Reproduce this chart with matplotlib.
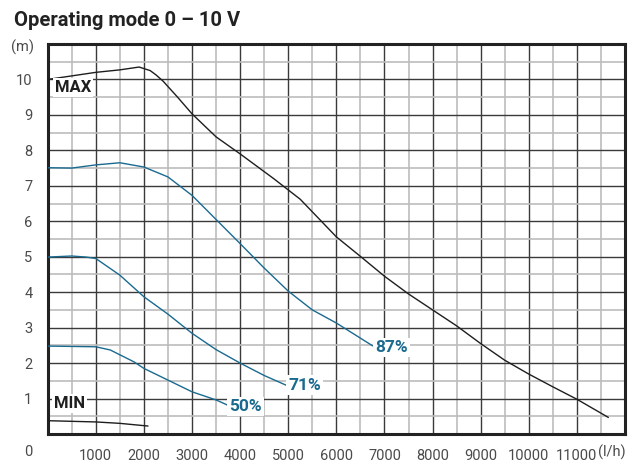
import matplotlib
matplotlib.use("Agg")
import matplotlib.pyplot as plt
from matplotlib.ticker import MultipleLocator

plt.rcParams['font.family'] = ['Roboto', 'DejaVu Sans']

# Pump curves: flow (l/h) vs head (m)
max_q = [0, 500, 1000, 1500, 1900, 2130, 2250, 2400, 2700, 3000, 3500, 4000, 4700, 5250,
         6000, 6500, 7000, 7500, 8000, 8500, 9000, 9500, 10000, 10500, 11000, 11650]
max_h = [10.0, 10.1, 10.2, 10.27, 10.35, 10.25, 10.13, 9.95, 9.5, 9.03, 8.38, 7.9, 7.2, 6.62,
         5.56, 5.01, 4.45, 3.95, 3.5, 3.05, 2.55, 2.08, 1.69, 1.33, 0.98, 0.47]

p87_q = [0, 500, 1000, 1500, 2000, 2500, 3000, 3500, 4000, 4500, 5000, 5500, 6000, 6750]
p87_h = [7.51, 7.5, 7.59, 7.65, 7.53, 7.25, 6.73, 6.05, 5.37, 4.68, 4.03, 3.5, 3.13, 2.49]

p71_q = [0, 500, 800, 1000, 1500, 2000, 2500, 3000, 3500, 4000, 4500, 4950]
p71_h = [4.99, 5.02, 4.99, 4.95, 4.48, 3.87, 3.38, 2.84, 2.38, 2.0, 1.65, 1.38]

p50_q = [0, 1000, 1300, 1800, 2000, 2500, 3000, 3500, 3730]
p50_h = [2.48, 2.46, 2.37, 2.03, 1.85, 1.52, 1.19, 0.96, 0.82]

min_q = [0, 1000, 1500, 2080]
min_h = [0.375, 0.34, 0.30, 0.225]

x_ticks = [1000, 2000, 3000, 4000, 5000, 6000, 7000, 8000, 9000, 10000, 11000]
y_ticks = [1, 2, 3, 4, 5, 6, 7, 8, 9, 10]

BLUE = '#1a6a90'
DARK = '#1e1e1e'
LABEL = '#4a4a4a'

fig = plt.figure(figsize=(6.4, 4.74), dpi=100)
ax = fig.add_axes([0.0745, 0.0844, 0.9021, 0.8228])
ax.set_xlim(0, 12000)
ax.set_ylim(0, 11)

ax.xaxis.set_major_locator(MultipleLocator(1000))
ax.xaxis.set_minor_locator(MultipleLocator(500))
ax.yaxis.set_major_locator(MultipleLocator(1))
ax.yaxis.set_minor_locator(MultipleLocator(0.5))
ax.grid(which='minor', color='#bcbcbc', lw=1.2, zorder=0)
ax.grid(which='major', color='#3a3a3a', lw=1.0, zorder=0)
ax.set_axisbelow(True)

ax.set_xticks(x_ticks)
ax.set_xticklabels([str(v) for v in x_ticks])
ax.set_yticks(y_ticks)
ax.set_yticklabels([str(v) for v in y_ticks])
ax.tick_params(which='both', length=0)
ax.tick_params(axis='x', pad=11, labelsize=10.5, labelcolor=LABEL)
ax.tick_params(axis='y', pad=11, labelsize=10.5, labelcolor=LABEL)

for s in ax.spines.values():
    s.set_linewidth(2.2)
    s.set_color('#222222')

ax.plot(max_q, max_h, color=DARK, lw=1.0, zorder=3)
ax.plot(min_q, min_h, color=DARK, lw=1.0, zorder=3)
ax.plot(p87_q, p87_h, color=BLUE, lw=1.0, zorder=3)
ax.plot(p71_q, p71_h, color=BLUE, lw=1.0, zorder=3)
ax.plot(p50_q, p50_h, color=BLUE, lw=1.0, zorder=3)

box = dict(facecolor='white', edgecolor='none', pad=1.5)
ax.text(530, 9.77, 'MAX', fontsize=12, fontweight='bold', color=DARK,
        ha='center', va='center', bbox=box, zorder=4)
ax.text(460, 0.86, 'MIN', fontsize=12, fontweight='bold', color=DARK,
        ha='center', va='center', bbox=box, zorder=4)
ax.text(6800, 2.45, '87%', fontsize=12.5, fontweight='bold', color=BLUE,
        ha='left', va='center', bbox=box, zorder=4)
ax.text(5000, 1.38, '71%', fontsize=12.5, fontweight='bold', color=BLUE,
        ha='left', va='center', bbox=box, zorder=4)
ax.text(3780, 0.77, '50%', fontsize=12.5, fontweight='bold', color=BLUE,
        ha='left', va='center', bbox=box, zorder=4)

fig.text(28 / 640, 1 - 452 / 474, '0', fontsize=10.5, color=LABEL, ha='center', va='center')
fig.text(23 / 640, 1 - 47 / 474, '(m)', fontsize=10.5, color=LABEL, ha='center', va='center')
fig.text(598 / 640, 1 - 452 / 474, '(l/h)', fontsize=10.5, color=LABEL, ha='left', va='center')
fig.text(14 / 640, 1 - 20 / 474, 'Operating mode 0 \u2013 10 V', fontsize=14.5,
         fontweight='bold', color='#222222', ha='left', va='center')

fig.savefig('out.png', dpi=100)
